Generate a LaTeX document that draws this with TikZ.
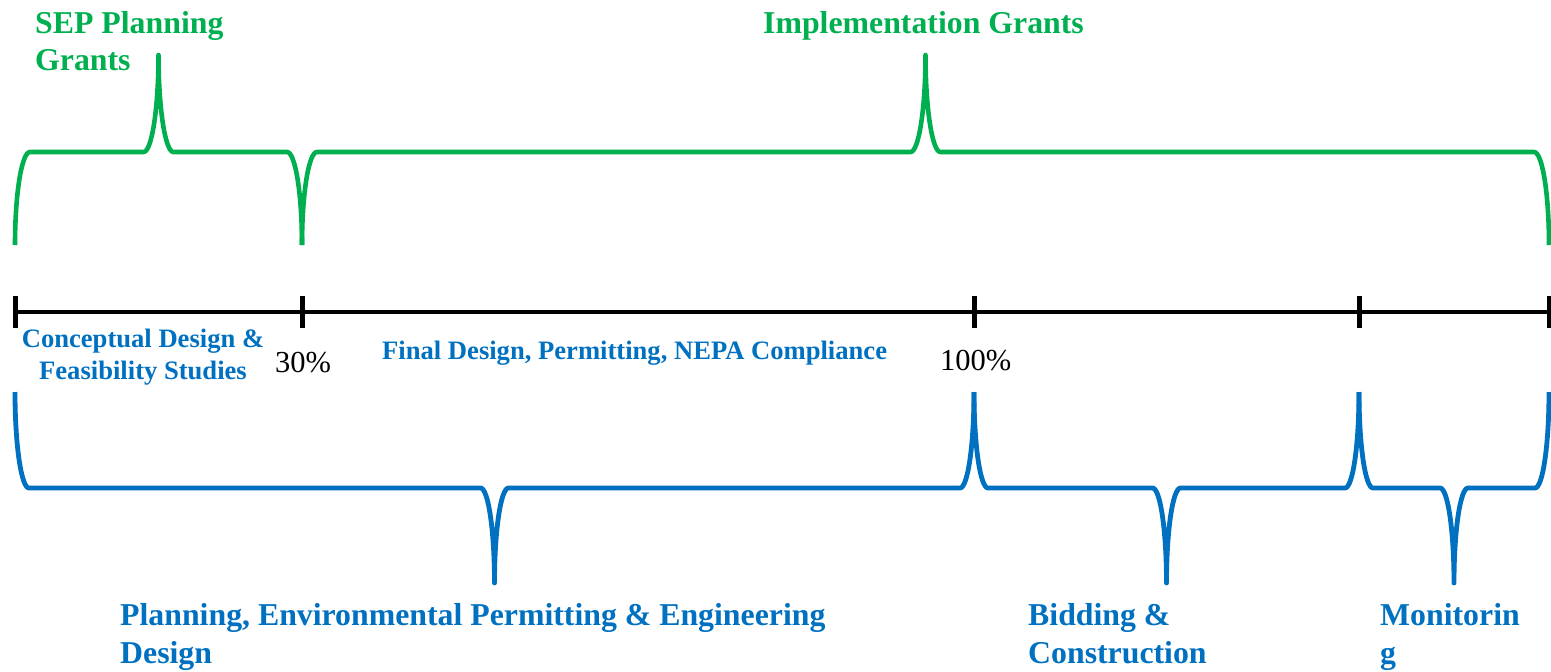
\documentclass[tikz,border=0pt]{standalone}
\usepackage{fontspec}
\setmainfont{Liberation Serif}
\definecolor{sepgreen}{HTML}{00B050}
\definecolor{sepblue}{HTML}{0070C0}
\newcommand\drawbrace[7]{%
  \pgfmathsetmacro\bmid{(#1+#2)/2}%
  \pgfmathsetmacro\bea{(#4-#3)*0.5523}%
  \pgfmathsetmacro\bca{(#4-#5)*0.5523}%
  \pgfmathsetmacro\brk{#6*0.5523}%
  \pgfmathsetmacro\bl{#1+#6}%
  \pgfmathsetmacro\bml{\bmid-#6}%
  \pgfmathsetmacro\bmr{\bmid+#6}%
  \pgfmathsetmacro\br{#2-#6}%
  \draw[#7] (#1,#3) .. controls +(0,\bea) and +(-\brk,0) .. (\bl,#4) -- (\bml,#4)
    .. controls +(\brk,0) and +(0,\bca) .. (\bmid,#5)
    .. controls +(0,\bca) and +(-\brk,0) .. (\bmr,#4) -- (\br,#4)
    .. controls +(\brk,0) and +(0,\bea) .. (#2,#3);
}
\begin{document}
\begin{tikzpicture}[x=1pt,y=-1pt,
  gbrace/.style={draw=sepgreen,line width=4.6pt,line join=round},
  bbrace/.style={draw=sepblue,line width=4.8pt,line join=round},
  axis/.style={draw=black,line width=4pt},
  tick/.style={draw=black,line width=5pt},
  bigg/.style={inner sep=0pt,text=sepgreen,font=\fontsize{31.8}{37}\selectfont\bfseries,align=left},
  bigb/.style={inner sep=0pt,text=sepblue,font=\fontsize{31.8}{38}\selectfont\bfseries,align=left},
  smallb/.style={inner sep=0pt,text=sepblue,font=\fontsize{26.6}{32}\selectfont\bfseries},
  pct/.style={inner sep=0pt,text=black,font=\fontsize{30.5}{36}\selectfont},
]
\useasboundingbox (0,0) rectangle (1551,672);
% green braces
\drawbrace{15}{302}{245}{152}{55}{15}{gbrace}
\drawbrace{302}{1549}{245}{152}{55}{15}{gbrace}
% blue braces
\drawbrace{15}{974}{392}{488}{583}{14}{bbrace}
\drawbrace{974}{1359}{392}{488}{583}{14}{bbrace}
\drawbrace{1359}{1549}{392}{488}{583}{14}{bbrace}
% timeline
\coordinate (t0) at (15,312);
\coordinate (t1) at (302,312);
\coordinate (t2) at (974,312);
\coordinate (t3) at (1359,312);
\coordinate (t4) at (1549,312);
\draw[axis] (t0) -- (t4);
\foreach \t in {t0,t1,t2,t3,t4}
  \draw[tick] ([yshift=-16pt]\t) -- ([yshift=16pt]\t);
% labels (base anchor = baseline of last line)
\node[bigg,anchor=base west] (sep) at (35,70) {SEP Planning\\Grants};
\node[bigg,anchor=base west] (impl) at (763,33) {Implementation Grants};
\node[smallb,anchor=base,align=center] (concept) at (143,379) {Conceptual Design \&\\Feasibility Studies};
\node[pct,anchor=base west] (p30) at (275,372) {30\%};
\node[smallb,anchor=base west] (final) at (382,359) {Final Design, Permitting, NEPA Compliance};
\node[pct,anchor=base west] (p100) at (940,370) {100\%};
\node[bigb,anchor=base west] (plan) at (120,663) {Planning, Environmental Permitting \& Engineering\\Design};
\node[bigb,anchor=base west] (bid) at (1028,663) {Bidding \&\\Construction};
\node[bigb,anchor=base west] (mon) at (1380,663) {Monitorin\\g};
\end{tikzpicture}
\end{document}
